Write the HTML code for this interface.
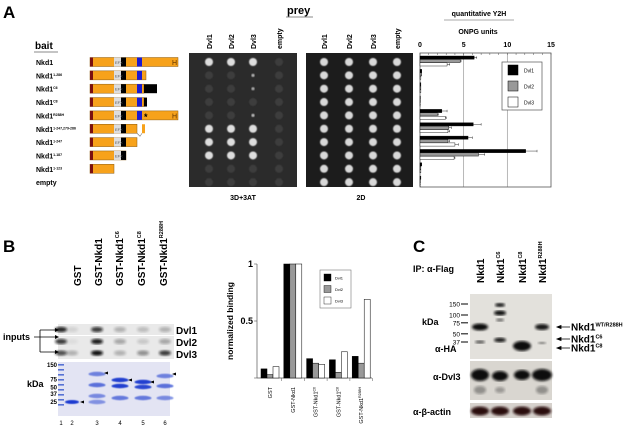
<!DOCTYPE html>
<html><head><meta charset="utf-8">
<style>
html,body{margin:0;padding:0;background:#fff;}
svg{display:block;font-family:"Liberation Sans",sans-serif;}
.b{font-weight:bold;}
</style></head>
<body>
<svg id="fig" width="631" height="436" viewBox="0 0 631 436" xmlns="http://www.w3.org/2000/svg">
<defs>
<filter id="bl1"><feGaussianBlur stdDeviation="1.2"/></filter>
<filter id="bl2"><feGaussianBlur stdDeviation="0.6"/></filter>
</defs>
<!-- Panel A -->
<g>
<text x="3" y="18" font-size="17" class="b">A</text>
<text x="287" y="14" font-size="11" class="b">prey</text>
<line x1="286" y1="17" x2="313" y2="17" stroke="#888" stroke-width="1"/>
<text x="35" y="49" font-size="10" class="b">bait</text>
<line x1="34" y1="52" x2="58" y2="52" stroke="#888" stroke-width="1"/>
<g id="baitLabels"></g>
<g id="constructs"></g>
<rect x="189" y="53" width="108" height="134" fill="#2b2b2b"/>
<rect x="306" y="53" width="107" height="134" fill="#1c1c1c"/>
<g id="colonies"></g>
<g id="preyLabels"></g>
<text x="243" y="200" font-size="7" class="b" text-anchor="middle">3D+3AT</text>
<text x="361" y="200" font-size="7" class="b" text-anchor="middle">2D</text>
<text x="479" y="16" font-size="7" class="b" text-anchor="middle">quantitative Y2H</text>
<line x1="444" y1="20" x2="514" y2="20" stroke="#aaa" stroke-width="1"/>
<text x="478" y="34" font-size="7" class="b" text-anchor="middle">ONPG units</text>
<g id="chartA"></g>
</g>
<!-- Panel B -->
<g>
<text x="3" y="252" font-size="17" class="b">B</text>
<g id="bLanes"></g>
<g id="bBlots"></g>
<text x="3" y="340" font-size="9" class="b">inputs</text>
<path d="M40 330 V352 M40 330 H55 M34 337 H55 M40 352 H55" stroke="#000" stroke-width="0.8" fill="none"/>
<path d="M55 328 l4 2 -4 2z M55 335 l4 2 -4 2z M55 350 l4 2 -4 2z" fill="#000"/>
<text x="176" y="334" font-size="10" class="b">Dvl1</text>
<text x="176" y="346" font-size="10" class="b">Dvl2</text>
<text x="176" y="358" font-size="10" class="b">Dvl3</text>
<g id="gel"></g>
<text x="27" y="387" font-size="9" class="b">kDa</text>
<g id="chartB"></g>
</g>
<!-- Panel C -->
<g>
<text x="413" y="252" font-size="17" class="b">C</text>
<text x="413" y="272" font-size="9" class="b">IP: α-Flag</text>
<g id="cBlots"></g>
</g>
<script>
const NS="http://www.w3.org/2000/svg";
function mk(tag,attrs,parent,txt){const e=document.createElementNS(NS,tag);for(const k in attrs)e.setAttribute(k,attrs[k]);if(txt!==undefined)e.textContent=txt;parent.appendChild(e);return e;}
// ---------- Panel A data ----------
const baitNames=["Nkd1","Nkd1","Nkd1","Nkd1","Nkd1","Nkd1","Nkd1","Nkd1","Nkd1","empty"];
const baitSup=["","1-286","C6","C8","R288H","1-247,279-286","1-247","1-187","1-123",""];
const preyNames=["Dvl1","Dvl2","Dvl3","empty"];
const growth3AT=[[1,1,1,0],[0,0,0.3,0],[0,0,0.2,0],[0,0,0,0],[0,0,0.4,0],[1,1,1,0],[1,1,1,0],[1,1,1,0],[0,0,0,0],[0,0,0,0]];
const dvl1ONPG=[6.2,0.2,0.1,0.05,2.5,6.1,5.5,12.1,0.2,0.1];
const dvl2ONPG=[4.6,0.2,0.1,0.05,2.0,3.3,3.2,6.7,0.1,0.05];
const dvl3ONPG=[3.1,0.1,0.1,0.05,2.9,3.2,4.0,3.9,0.1,0.05];
const dvl1Err=[0.3,0,0,0,0.6,0.9,0.5,1.3,0,0];
const dvl2Err=[0.1,0,0,0,0.1,0.3,0.2,0.7,0,0];
const dvl3Err=[0.3,0,0,0,0.1,0.2,0.4,0.1,0,0];
const onpgTicks=[0,5,10,15];
const seriesA=["Dvl1","Dvl2","Dvl3"];
// ---------- Panel B data ----------
const pullCats=["GST","GST-Nkd1","GST-Nkd1","GST-Nkd1","GST-Nkd1"];
const pullSup=["","","C6","C8","R288H"];
const dvl1Bind=[0.08,1,0.17,0.16,0.19];
const dvl2Bind=[0.03,1,0.13,0.05,0.13];
const dvl3Bind=[0.10,1,0.12,0.23,0.69];
const bindTicks=[0,0.5,1];
const bindTickLabels=["","0.5","1"];
const gelMarkers=["150","75","50","37","25"];
const gelMarkerKda=[150,75,50,37,25];
const laneNums=["1","2","3","4","5","6"];
// ---------- Panel C data ----------
const cLanes=["","C6","C8","R288H"];
const cMarkers=["150","100","75","50","37"];
const cMarkerKda=[150,100,75,50,37];

const rowY=i=>62+i*13.35;
const bl=document.getElementById('baitLabels');
baitNames.forEach((n,i)=>{const t=mk('text',{x:36,y:rowY(i)+3,'font-size':7,'class':'b'},bl);
 
 
 mk('tspan',{},t,n); if(baitSup[i]){mk('tspan',{dy:-2.5,'font-size':3.5},t,baitSup[i]);}});
const cs=document.getElementById('constructs');
const O="#f7a21b";
const segs=[
 [[90,178,O],[90,93,"#7a1010"],[114,121,"#ddd"],[121,126,"#000"],[137,142,"#1a1ad0"]],
 [[90,146,O],[90,93,"#7a1010"],[114,121,"#ddd"],[121,126,"#000"],[137,142,"#1a1ad0"]],
 [[90,144,O],[90,93,"#7a1010"],[114,121,"#ddd"],[121,126,"#000"],[137,142,"#1a1ad0"],[144,157,"#000"]],
 [[90,144,O],[90,93,"#7a1010"],[114,121,"#ddd"],[121,126,"#000"],[137,142,"#1a1ad0"],[144,147,"#000"]],
 [[90,178,O],[90,93,"#7a1010"],[114,121,"#ddd"],[121,126,"#000"],[137,142,"#1a1ad0"]],
 [[90,137,O],[90,93,"#7a1010"],[114,121,"#ddd"],[121,126,"#000"],[142,145,O]],
 [[90,137,O],[90,93,"#7a1010"],[114,121,"#ddd"],[121,126,"#000"]],
 [[90,126,O],[90,93,"#7a1010"],[114,121,"#ddd"],[121,126,"#000"]],
 [[90,114,O],[90,93,"#7a1010"]],
 []];
segs.forEach((sg,i)=>{const y=rowY(i)-4.5;const g=mk('g',{},cs);
 
 
 sg.forEach((s,j)=>mk('rect',{x:s[0],y:y,width:s[1]-s[0],height:9,fill:s[2],stroke:j==0?"#8a5a10":"none",'stroke-width':0.5},g));
 if(sg.length&&sg[0][1]>=125) mk('text',{x:115,y:y+6.5,'font-size':4,fill:'#555'},g,'EFX');
 if(i==0||i==4) mk('text',{x:172,y:y+7.5,'font-size':7,fill:'#5a3000'},g,'H');
 if(i==4) mk('text',{x:144,y:y+9,'font-size':9,'class':'b'},g,'*');
 if(i==5) mk('path',{d:`M137 ${y+9} l3 3 l2 -3`,stroke:'#777',fill:'none','stroke-width':0.6},g);
});
const pl=document.getElementById('preyLabels');
const col3=[209,231,253,279], col2=[324,349,373,397];
[col3,col2].forEach(cols=>cols.forEach((x,j)=>{const t=mk('text',{transform:`translate(${x+3},49) rotate(-90)`,'font-size':7,'class':'b'},pl,preyNames[j]);
 
 }));
const co=document.getElementById('colonies');
growth3AT.forEach((r,i)=>r.forEach((g,j)=>{const c=mk('circle',{cx:col3[j],cy:rowY(i),r:g>0?4*Math.max(g,0.4):4,fill:g>0?'#ddd':'#3d3d3d',opacity:g>0?(0.6+0.4*g):1,filter:'url(#bl2)'},co);
 
 }));
growth3AT.forEach((r,i)=>r.forEach((g,j)=>{const c=mk('circle',{cx:col2[j],cy:rowY(i),r:4,fill:'#d8d8d8',filter:'url(#bl2)'},co);
 
 }));
const cA=document.getElementById('chartA');
const ax0=420,ax1=551,ay0=53,ay1=187;
const xA=v=>ax0+(v/15)*(ax1-ax0);
onpgTicks.forEach((t,k)=>{
 if(t>0&&t<15) mk('line',{x1:xA(t),y1:ay0,x2:xA(t),y2:ay1,stroke:'#999','stroke-width':0.7},cA);
 const tl=mk('text',{x:xA(t),y:47,'font-size':7,'class':'b','text-anchor':'middle'},cA,String(t));
 
 });
for(let v=0;v<=15;v++) mk('line',{x1:xA(v),y1:ay0,x2:xA(v),y2:ay0+2,stroke:'#555','stroke-width':0.5},cA);
mk('rect',{x:ax0,y:ay0,width:ax1-ax0,height:ay1-ay0,fill:'none',stroke:'#555','stroke-width':0.8},cA);
const fills=['#000','#999','#fff'];
[dvl1ONPG,dvl2ONPG,dvl3ONPG].forEach((s,k)=>{const errs=[dvl1Err,dvl2Err,dvl3Err][k];
 s.forEach((v,i)=>{const y=56+i*13.35+k*3.4;
  const r=mk('rect',{x:ax0,y:y,width:xA(v)-ax0,height:3.2,fill:fills[k],stroke:'#000','stroke-width':0.4},cA);
  
  
  if(errs[i]>0) mk('path',{d:`M${xA(v)} ${y+1.6} H${xA(v+errs[i])} M${xA(v+errs[i])} ${y+0.4} V${y+2.8}`,stroke:'#000','stroke-width':0.4,fill:'none'},cA);});});
const lgA=mk('g',{},cA);


mk('rect',{x:502,y:62,width:40,height:48,fill:'#fff',stroke:'#555','stroke-width':0.7},lgA);
seriesA.forEach((n,k)=>{const e=mk('g',{},lgA);
 
 
 mk('rect',{x:508,y:65+k*16,width:10,height:10,fill:fills[k],stroke:'#000','stroke-width':0.5},e);
 mk('text',{x:524,y:72.5+k*16,'font-size':5},e,n);});
// ---------- Panel B ----------
const bLx=[77,98,119,141,163];
const bln=document.getElementById('bLanes');
pullCats.forEach((n,i)=>{const t=mk('text',{transform:`translate(${bLx[i]+4},286) rotate(-90)`,'font-size':10,'class':'b'},bln);
 
 
 mk('tspan',{},t,n); if(pullSup[i]) mk('tspan',{dy:-4,'font-size':5.5},t,pullSup[i]);});
const bb=document.getElementById('bBlots');
const laneX=[61,72,97,120,143,165];
const strips=[[324,11,[0.9,0.1,0.8,0.25,0.2,0.25]],[336,11,[0.8,0.05,0.95,0.3,0.15,0.3]],[347,12,[0.7,0.25,1,0.25,0.4,0.8]]];
strips.forEach((s,k)=>{const g=mk('g',{},bb);
 
 
 mk('rect',{x:58,y:s[0],width:116,height:s[1],fill:'#e9e9e9'},g);
 s[2].forEach((a,i)=>mk('ellipse',{cx:laneX[i],cy:s[0]+s[1]/2,rx:6,ry:2.6,fill:'#111',opacity:a,filter:'url(#bl1)'},g));});
const gel=document.getElementById('gel');
mk('rect',{x:58,y:362,width:112,height:54,fill:'#e3e4f3'},gel);
const kY=kd=>362+ (Math.log(150)-Math.log(kd))/(Math.log(150)-Math.log(25))*(402-365)+3;
gelMarkers.forEach((m,k)=>{const t=mk('text',{x:57,y:kY(gelMarkerKda[k])+2,'font-size':6,'class':'b','text-anchor':'end'},gel,m);
 
 });
for(let k=0;k<9;k++) mk('rect',{x:58,y:364+k*5,width:6,height:1.6,fill:'#3355cc',opacity:0.8},gel);
mk('ellipse',{cx:72,cy:402,rx:7,ry:2,fill:'#1a3bd0',filter:'url(#bl2)'},gel);
[[97,374,0.6],[97,385,0.7],[97,396,0.55],[97,402,0.5],[120,380,1],[120,386,1],[120,398,0.65],[143,382,1],[143,387,0.95],[143,398,0.65],[165,376,0.6],[165,386,0.7],[165,398,0.55]].forEach(b=>
 mk('ellipse',{cx:b[0],cy:b[1],rx:8.5,ry:2.2,fill:'#2040d0',opacity:b[2],filter:'url(#bl2)'},gel));
[[80,402],[104,373],[128,380],[150,382],[172,374]].forEach(a=>mk('path',{d:`M${a[0]} ${a[1]} l4 -1.5 v3z`,fill:'#000'},gel));
laneNums.forEach((n,i)=>{const t=mk('text',{x:laneX[i],y:425,'font-size':6,'text-anchor':'middle'},gel,n);
 
 });
const cB=document.getElementById('chartB');
const bx0=257,bx1=372,by0=378,by1=264;
const yB=v=>by0-v*(by0-by1);
mk('line',{x1:bx0,y1:by1,x2:bx0,y2:by0,stroke:'#555','stroke-width':0.7},cB);
mk('line',{x1:bx0,y1:by0,x2:bx1,y2:by0,stroke:'#555','stroke-width':0.7},cB);
bindTicks.forEach((t,k)=>{mk('line',{x1:bx0-3,y1:yB(t),x2:bx0,y2:yB(t),stroke:'#555','stroke-width':0.6},cB);
 const tl=mk('text',{x:bx0-4,y:yB(t)+3,'font-size':9,'class':'b','text-anchor':'end'},cB,bindTickLabels[k]);
 
 });
const yt=mk('text',{transform:'translate(233,321) rotate(-90)','font-size':8.5,'class':'b','text-anchor':'middle'},cB,'normalized binding');


const gx=i=>261+i*22.8;
[dvl1Bind,dvl2Bind,dvl3Bind].forEach((s,k)=>s.forEach((v,i)=>{
 const r=mk('rect',{x:gx(i)+k*6,y:yB(v),width:6,height:by0-yB(v),fill:fills[k],stroke:'#000','stroke-width':0.5},cB);
 
 }));
pullCats.forEach((n,i)=>{mk('line',{x1:gx(i)+20.5,y1:by0,x2:gx(i)+20.5,y2:by0+3,stroke:'#555','stroke-width':0.5},cB);
 const t=mk('text',{transform:`translate(${gx(i)+11},387) rotate(-90)`,'font-size':5.5,'text-anchor':'end'},cB);
 
 
 mk('tspan',{},t,n); if(pullSup[i]) mk('tspan',{dy:-2,'font-size':3.5},t,pullSup[i]);});
const lgB=mk('g',{},cB);


mk('rect',{x:320,y:270,width:31,height:38,fill:'#fff',stroke:'#777','stroke-width':0.6},lgB);
seriesA.forEach((n,k)=>{const e=mk('g',{},lgB);
 
 
 mk('rect',{x:324,y:274+k*11.5,width:7,height:7,fill:fills[k],stroke:'#000','stroke-width':0.4},e);
 mk('text',{x:335,y:279.5+k*11.5,'font-size':4},e,n);});
// ---------- Panel C ----------
const cb=document.getElementById('cBlots');
const cLx=[480,500,522,542];
cLanes.forEach((s,i)=>{const t=mk('text',{transform:`translate(${cLx[i]+4},283) rotate(-90)`,'font-size':10,'class':'b'},cb);
 
 
 mk('tspan',{},t,'Nkd1'); if(s) mk('tspan',{dy:-4,'font-size':5.5},t,s);});
mk('rect',{x:470,y:294,width:82,height:65,fill:'#e3e1dc'},cb);
mk('rect',{x:470,y:361,width:82,height:39,fill:'#d9d6d0'},cb);
mk('rect',{x:470,y:403,width:82,height:15,fill:'#d6d1cc'},cb);
const cy=kd=>300+(Math.log(150)-Math.log(kd))/(Math.log(150)-Math.log(37))*(338-300)+4;
cMarkers.forEach((m,k)=>{const y=cy(cMarkerKda[k]);mk('line',{x1:461,y1:y,x2:468,y2:y,stroke:'#000','stroke-width':1},cb);
 const t=mk('text',{x:460,y:y+2.5,'font-size':6.5,'text-anchor':'end'},cb,m);
 
 });
mk('text',{x:422,y:325,'font-size':9,'class':'b'},cb,'kDa');
mk('text',{x:435,y:352,'font-size':9,'class':'b'},cb,'α-HA');
mk('text',{x:433,y:380,'font-size':9,'class':'b'},cb,'α-Dvl3');
mk('text',{x:413,y:415,'font-size':9,'class':'b'},cb,'α-β-actin');
[[480,327,8,3.5,1],[480,342,5,1.5,0.7],[500,313,6,2.5,1],[500,305,5,2,0.95],[500,320,4,1.5,0.6],[500,340,6,2.2,0.95],[522,346,9,5,1],[542,327,7,3,0.95],[542,343,4,1.2,0.5],
 [480,375,9,6,1],[500,376,8,5,1],[522,375,8,5,1],[542,375,10,6,1],[480,390,6,4,0.35],[500,390,5,3,0.3],[542,390,6,4,0.35],
 [480,411,9,4.5,1],[500,411,9,4.5,1],[522,411,9,4.5,1],[542,411,9,4.5,1]].forEach(b=>
 mk('ellipse',{cx:b[0],cy:b[1],rx:b[2],ry:b[3],fill:b[1]>400?'#2a0a0e':'#0a0a0a',opacity:b[4],filter:'url(#bl1)'},cb));
[[327,'WT/R288H'],[339,'C6'],[348,'C8']].forEach(a=>{
 mk('path',{d:`M557 ${a[0]} H570 M557 ${a[0]} l4 -1.5 v3z`,stroke:'#000','stroke-width':0.8,fill:'#000'},cb);
 const t=mk('text',{x:571,y:a[0]+3.5,'font-size':10,'class':'b'},cb);
 
 
 mk('tspan',{},t,'Nkd1');mk('tspan',{dy:-4,'font-size':5.5},t,a[1]);});
</script>
</svg>
</body></html>
